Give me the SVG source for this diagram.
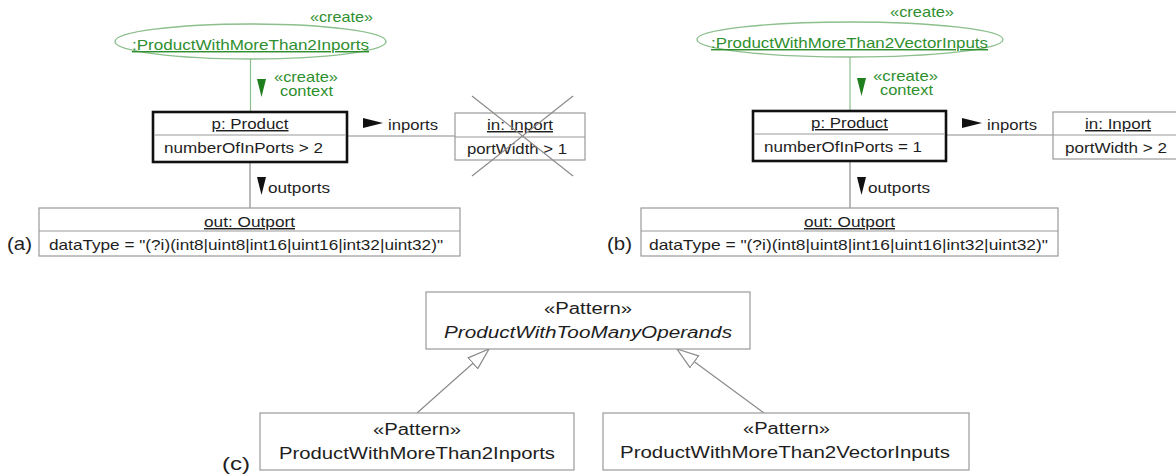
<svg xmlns="http://www.w3.org/2000/svg" width="1176" height="475" viewBox="0 0 1176 475">
<style>
text{font-family:"Liberation Sans",Arial,sans-serif;font-size:14.5px;fill:#1e1e1e}
.g{fill:#2f8f2f}
.u{text-decoration:underline}
.lbl{font-size:19px}
.c{font-size:16px}
.it{font-style:italic}
.box{fill:#fff;stroke:#9a9a9a;stroke-width:1.2}
.thick{fill:#fff;stroke:#111;stroke-width:2.6}
.div{stroke:#9a9a9a;stroke-width:1.2}
.ln{stroke:#8a8a8a;stroke-width:1.2;fill:none}
.gln{stroke:#8cbf8c;stroke-width:1.2;fill:none}
.ell{fill:#fff;stroke:#8cbf8c;stroke-width:1.4}
.tri{fill:#111}
.gtri{fill:#1f7f1f}
</style>
<defs>
<marker id="gen" markerUnits="userSpaceOnUse" markerWidth="24" markerHeight="17" refX="22" refY="8" orient="auto">
<path d="M0.5,0.8 L22,8 L0.5,15.2 Z" fill="#fff" stroke="#8a8a8a" stroke-width="1.2"/>
</marker>
</defs>

<g id="connectors">
<line class="gln" x1="250.5" y1="59" x2="250.5" y2="112"/>
<line class="ln" x1="250" y1="162" x2="250" y2="208"/>
<line class="ln" x1="347" y1="136" x2="455" y2="136"/>
<line class="gln" x1="850" y1="57" x2="850" y2="111"/>
<line class="ln" x1="850" y1="161" x2="850" y2="208"/>
<line class="ln" x1="946" y1="135" x2="1053" y2="135"/>
<line class="ln" x1="417" y1="413" x2="489" y2="349" marker-end="url(#gen)"/>
<line class="ln" x1="764" y1="413" x2="677" y2="349" marker-end="url(#gen)"/>
</g>

<g id="labels">
<polygon class="gtri" points="257,79 266,79 261.5,97"/>
<text class="g" x="274" y="82" textLength="64" lengthAdjust="spacingAndGlyphs">«create»</text>
<text class="g" x="280" y="96" textLength="53" lengthAdjust="spacingAndGlyphs">context</text>
<polygon class="tri" points="363,118 383,123 363,128"/>
<text x="388" y="130" textLength="50" lengthAdjust="spacingAndGlyphs">inports</text>
<polygon class="tri" points="257,177 266,177 261.5,195"/>
<text x="268" y="193" textLength="62" lengthAdjust="spacingAndGlyphs">outports</text>

<polygon class="gtri" points="857,78 866,78 861.5,96"/>
<text class="g" x="873" y="81" textLength="65" lengthAdjust="spacingAndGlyphs">«create»</text>
<text class="g" x="880" y="95" textLength="53" lengthAdjust="spacingAndGlyphs">context</text>
<polygon class="tri" points="962,118 982,123 962,128"/>
<text x="987" y="130" textLength="50" lengthAdjust="spacingAndGlyphs">inports</text>
<polygon class="tri" points="857,177 866,177 861.5,195"/>
<text x="868" y="193" textLength="62" lengthAdjust="spacingAndGlyphs">outports</text>
</g>

<g id="a-create">
<ellipse class="ell" cx="250.5" cy="41.5" rx="135.5" ry="17.5"/>
<text class="g" x="310" y="22" textLength="63" lengthAdjust="spacingAndGlyphs">«create»</text>
<text class="g u" x="132" y="50" textLength="237" lengthAdjust="spacingAndGlyphs">:ProductWithMoreThan2Inports</text>
</g>
<g id="a-product">
<rect class="thick" x="153" y="112" width="194" height="50"/>
<line class="div" x1="154.5" y1="135" x2="345.5" y2="135"/>
<text class="u" x="211.5" y="129" textLength="77" lengthAdjust="spacingAndGlyphs">p: Product</text>
<text x="164" y="153" textLength="159" lengthAdjust="spacingAndGlyphs">numberOfInPorts &gt; 2</text>
</g>
<g id="a-inport">
<rect class="box" x="455" y="113" width="130" height="47"/>
<line class="div" x1="455" y1="137" x2="585" y2="137"/>
<text class="u" x="487" y="130" textLength="66" lengthAdjust="spacingAndGlyphs">in: Inport</text>
<text x="467" y="154" textLength="100" lengthAdjust="spacingAndGlyphs">portWidth &gt; 1</text>
<line class="ln" x1="472" y1="96" x2="573" y2="176"/>
<line class="ln" x1="573" y1="96" x2="472" y2="176"/>
</g>
<g id="a-outport">
<rect class="box" x="39" y="208" width="421" height="48"/>
<line class="div" x1="39" y1="231" x2="460" y2="231"/>
<text class="u" x="204" y="227" textLength="91" lengthAdjust="spacingAndGlyphs">out: Outport</text>
<text x="49" y="250" textLength="394" lengthAdjust="spacingAndGlyphs">dataType = "(?i)(int8|uint8|int16|uint16|int32|uint32)"</text>
</g>
<text class="lbl" x="7" y="250" textLength="25" lengthAdjust="spacingAndGlyphs">(a)</text>

<g id="b-create">
<ellipse class="ell" cx="850" cy="39.5" rx="153" ry="17.5"/>
<text class="g" x="890" y="17" textLength="64" lengthAdjust="spacingAndGlyphs">«create»</text>
<text class="g u" x="711" y="48" textLength="277" lengthAdjust="spacingAndGlyphs">:ProductWithMoreThan2VectorInputs</text>
</g>
<g id="b-product">
<rect class="thick" x="753" y="111" width="193" height="50"/>
<line class="div" x1="754.5" y1="134" x2="944.5" y2="134"/>
<text class="u" x="811" y="128" textLength="77" lengthAdjust="spacingAndGlyphs">p: Product</text>
<text x="764" y="152" textLength="158" lengthAdjust="spacingAndGlyphs">numberOfInPorts = 1</text>
</g>
<g id="b-inport">
<rect class="box" x="1053" y="112" width="130" height="47"/>
<line class="div" x1="1053" y1="135" x2="1183" y2="135"/>
<text class="u" x="1085" y="129" textLength="66" lengthAdjust="spacingAndGlyphs">in: Inport</text>
<text x="1065" y="153" textLength="102" lengthAdjust="spacingAndGlyphs">portWidth &gt; 2</text>
</g>
<g id="b-outport">
<rect class="box" x="641" y="208" width="417" height="48"/>
<line class="div" x1="641" y1="231" x2="1058" y2="231"/>
<text class="u" x="804" y="227" textLength="91" lengthAdjust="spacingAndGlyphs">out: Outport</text>
<text x="649" y="250" textLength="399" lengthAdjust="spacingAndGlyphs">dataType = "(?i)(int8|uint8|int16|uint16|int32|uint32)"</text>
</g>
<text class="lbl" x="607" y="250" textLength="25" lengthAdjust="spacingAndGlyphs">(b)</text>

<g id="c-parent">
<rect class="box" x="426" y="292" width="324" height="57"/>
<text class="c" x="544" y="314" textLength="88" lengthAdjust="spacingAndGlyphs">«Pattern»</text>
<text class="c it" x="444" y="338" textLength="288" lengthAdjust="spacingAndGlyphs">ProductWithTooManyOperands</text>
</g>
<g id="c-inports">
<rect class="box" x="260" y="413" width="314" height="57"/>
<text class="c" x="373" y="435" textLength="88" lengthAdjust="spacingAndGlyphs">«Pattern»</text>
<text class="c" x="279" y="459" textLength="276" lengthAdjust="spacingAndGlyphs">ProductWithMoreThan2Inports</text>
</g>
<g id="c-vector">
<rect class="box" x="603" y="413" width="366" height="57"/>
<text class="c" x="743" y="434" textLength="87" lengthAdjust="spacingAndGlyphs">«Pattern»</text>
<text class="c" x="620" y="458" textLength="330" lengthAdjust="spacingAndGlyphs">ProductWithMoreThan2VectorInputs</text>
</g>
<text class="lbl" x="222" y="470" textLength="28" lengthAdjust="spacingAndGlyphs">(c)</text>
</svg>
